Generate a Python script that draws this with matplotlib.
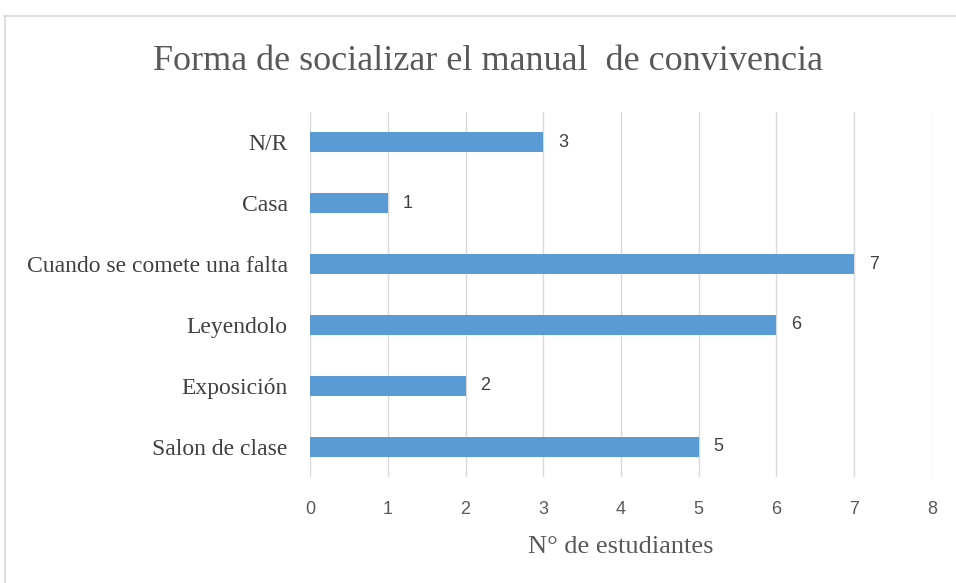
import matplotlib.pyplot as plt
from matplotlib.lines import Line2D

categories = ["Salon de clase", "Exposición", "Leyendolo",
              "Cuando se comete una falta", "Casa", "N/R"]
values = [5, 2, 6, 7, 1, 3]
xticks = [0, 1, 2, 3, 4, 5, 6, 7, 8]

bar_color = "#5B9BD5"
text_color = "#595959"

fig = plt.figure(figsize=(9.56, 5.83), dpi=100)
ax = fig.add_axes([310 / 956, 1 - 477 / 583, 622 / 956, 365 / 583])

ypos = range(len(categories))
ax.barh(ypos, values, height=0.33, color=bar_color, zorder=3)

for y, v in zip(ypos, values):
    ax.text(v + 0.19, y, str(v), va="center", ha="left", fontsize=13,
            family="Liberation Sans", color="#404040")

ax.set_xlim(0, 8)
ax.set_ylim(-0.5, len(categories) - 0.5)
ax.set_xticks(xticks)
ax.set_xticklabels([str(t) for t in xticks], family="Liberation Sans",
                   fontsize=13, color=text_color)
ax.set_yticks(list(ypos))
ax.set_yticklabels(categories, family="Liberation Serif", fontsize=17,
                   color="#404040")
ax.tick_params(axis="both", length=0)
ax.tick_params(axis="x", pad=17)
ax.tick_params(axis="y", pad=16)

ax.grid(axis="x", color="#D9D9D9", linewidth=1, zorder=0)
for s in ax.spines.values():
    s.set_visible(False)

ax.set_xlabel("N° de estudiantes", family="Liberation Serif", fontsize=19,
              color=text_color, labelpad=13)

fig.text(488 / 956, 1 - 61 / 583, "Forma de socializar el manual  de convivencia",
         ha="center", va="center", family="Liberation Serif", fontsize=26,
         color=text_color)

# chart frame
fig.add_artist(Line2D([4 / 956, 1], [1 - 15.5 / 583] * 2, color="#D9D9D9",
                      linewidth=1.2, transform=fig.transFigure))
fig.add_artist(Line2D([4.5 / 956] * 2, [0, 1 - 15.5 / 583], color="#D9D9D9",
                      linewidth=1.2, transform=fig.transFigure))

fig.savefig("out.png", dpi=100)
